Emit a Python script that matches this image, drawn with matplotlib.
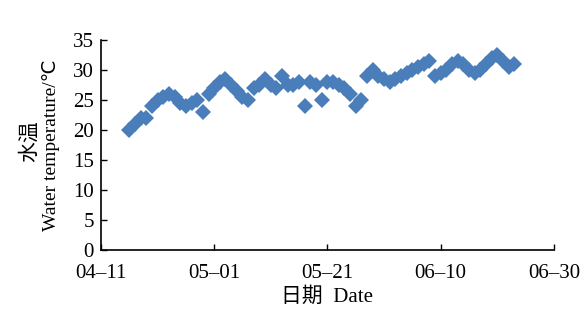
import matplotlib.pyplot as plt
import numpy as np

# water temperature, one reading per day from 04-16 to 06-23
dates = np.arange('2014-04-16', '2014-06-24', dtype='datetime64[D]')
temp = [20, 21, 22, 22, 24, 25, 25.5, 26, 25.5, 24.5,
        24, 24.5, 25, 23, 26, 27, 28, 28.5, 27.5, 26.5,
        25.5, 25, 27, 27.5, 28.5, 27.5, 27, 29, 27.5, 27.5,
        28, 24, 28, 27.5, 25, 28, 28, 27.5, 27, 26,
        24, 25, 29, 30, 29, 28.5, 28, 28.5, 29, 29.5,
        30, 30.5, 31, 31.5, 29, 29.5, 30, 31, 31.5, 31,
        30, 29.5, 30, 31, 32, 32.5, 31.5, 30.5, 31]
tick_dates = np.array(['2014-04-11', '2014-05-01', '2014-05-21', '2014-06-10', '2014-06-30'],
                      dtype='datetime64[D]')
tick_labels = ['04–11', '05–01', '05–21', '06–10', '06–30']
yticks = [0, 5, 10, 15, 20, 25, 30, 35]

plt.rcParams['font.family'] = ['Liberation Serif', 'Noto Sans CJK SC']
plt.rcParams['font.size'] = 15

fig = plt.figure(figsize=(5.8, 3.15), dpi=100)
ax = fig.add_axes([0.174, 0.206, 0.781, 0.667])

ax.plot(dates, temp, linestyle='none', marker='D', markersize=8.3,
        color='#4a7ebb', markeredgewidth=0)

ax.set_xlim(tick_dates[0], tick_dates[-1])
ax.set_ylim(0, 35)
ax.set_xticks(tick_dates)
ax.set_xticklabels(tick_labels)
ax.set_yticks(yticks)

ax.spines['top'].set_visible(False)
ax.spines['right'].set_visible(False)
ax.spines['left'].set_linewidth(1.2)
ax.spines['bottom'].set_linewidth(1.2)
ax.tick_params(direction='in', length=4, width=1, pad=5)
ax.tick_params(axis='x', pad=10)

ax.set_xlabel('日期  Date', labelpad=3, fontsize=15)
fig.text(0.052, 0.552, '水温', rotation=90, ha='center', va='center', fontsize=15)
fig.text(0.088, 0.54, 'Water temperature/℃', rotation=90, ha='center', va='center',
         fontsize=14, family=['Liberation Serif', 'DejaVu Sans'])

fig.savefig('out.png', dpi=100)
